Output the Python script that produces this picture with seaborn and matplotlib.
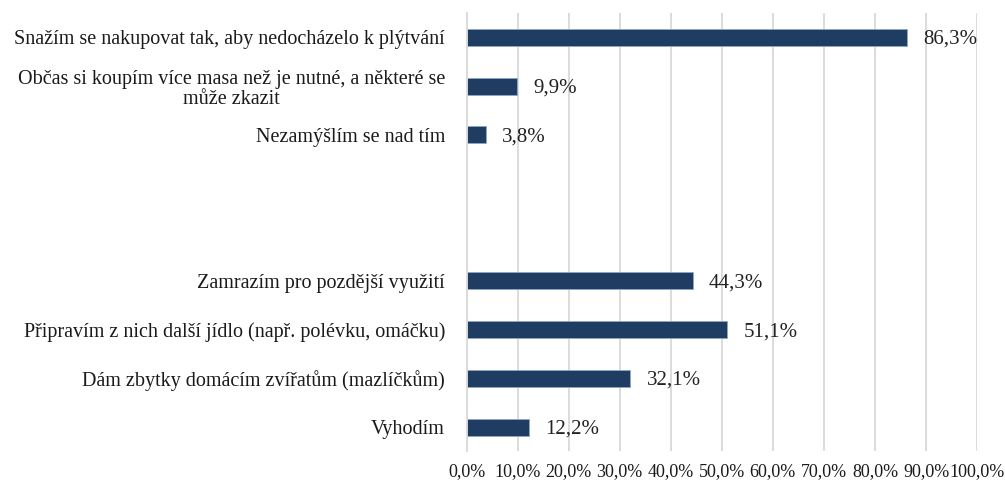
import pandas as pd
import seaborn as sns
import matplotlib.pyplot as plt
from matplotlib.ticker import FuncFormatter

# Data (two groups separated by a gap)
group1_labels = [
    "Snažím se nakupovat tak, aby nedocházelo k plýtvání",
    "Občas si koupím více masa než je nutné, a některé se\nmůže zkazit",
    "Nezamýšlím se nad tím",
]
group1_values = [86.3, 9.9, 3.8]

group2_labels = [
    "Zamrazím pro pozdější využití",
    "Připravím z nich další jídlo (např. polévku, omáčku)",
    "Dám zbytky domácím zvířatům (mazlíčkům)",
    "Vyhodím",
]
group2_values = [44.3, 51.1, 32.1, 12.2]

gap_labels = ["_gap1", "_gap2"]

order = group1_labels + gap_labels + group2_labels
df = pd.DataFrame({
    "label": group1_labels + group2_labels,
    "value": group1_values + group2_values,
})

sns.set_theme(style="whitegrid")
plt.rcParams["font.family"] = ["Liberation Serif", "DejaVu Serif"]

bar_color = "#1f3d63"

fig = plt.figure(figsize=(10.05, 4.8), dpi=100)
ax = fig.add_axes([0.4642, 0.0594, 0.508, 0.9135])

sns.barplot(data=df, x="value", y="label", order=order, orient="h",
            color=bar_color, width=0.35, edgecolor="#8fa6c4", linewidth=0.6,
            saturation=1, ax=ax)

# value labels
for lab, val in zip(df["label"], df["value"]):
    ypos = order.index(lab)
    ax.text(val + 3.2, ypos + 0.04, f"{val:.1f}%".replace(".", ","),
            va="center", ha="left", fontsize=15, color="#222222")

ax.set_xlim(0, 100)
ax.set_ylim(len(order) - 0.5, -0.5)
ax.set_xticks(range(0, 101, 10))
ax.xaxis.set_major_formatter(FuncFormatter(lambda v, p: f"{v:.1f}%".replace(".", ",")))
ax.set_yticks(range(len(order)))
ax.set_yticklabels([("" if l.startswith("_gap") else l) for l in order],
                   multialignment="center", linespacing=1.1)

ax.set_xlabel("")
ax.set_ylabel("")
ax.tick_params(axis="y", length=0, pad=15.5, labelsize=14.5, labelcolor="#1a1a1a")
ax.tick_params(axis="x", length=0, pad=8, labelsize=13, labelcolor="#1a1a1a")

ax.grid(axis="x", color="#d9d9d9", linewidth=1.3)
ax.grid(axis="y", visible=False)
for side in ["top", "right", "bottom"]:
    ax.spines[side].set_visible(False)
ax.spines["left"].set_color("#d9d9d9")
ax.spines["left"].set_linewidth(1.3)
ax.set_facecolor("white")

plt.savefig("out.png", dpi=100, facecolor="white")
plt.close()
